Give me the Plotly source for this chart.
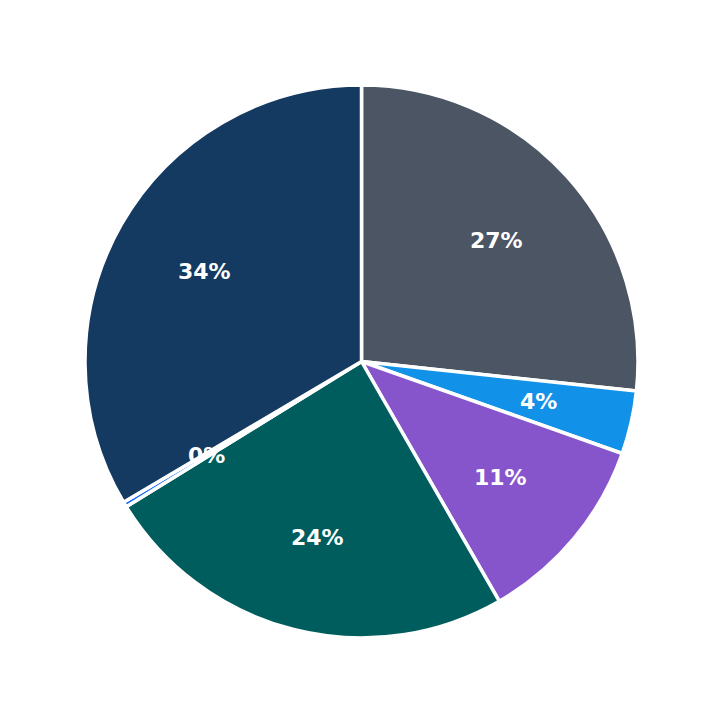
import math
import plotly.graph_objects as go

labels = ['A', 'B', 'C', 'D', 'E', 'F']
values = [26.7, 3.7, 11.3, 24.5, 0.3, 33.5]
colors = ['#4b5563', '#1192e8', '#8655cc', '#005d5d', '#0f62fe', '#143a62']

fig = go.Figure()
fig.add_trace(go.Pie(
    labels=labels, values=values, sort=False, direction='clockwise', rotation=0,
    marker=dict(colors=colors, line=dict(color='white', width=3.5)),
    textinfo='none', hoverinfo='label+percent', showlegend=False,
))

# percent labels at fixed radius, centred on each slice
total = sum(values)
cum = 0
for v in values:
    mid = (cum + v / 2) / total * 2 * math.pi
    cum += v
    r = 0.5 * 0.655
    fig.add_annotation(
        x=0.5 + r * math.sin(mid), y=0.5 + r * math.cos(mid),
        xref='paper', yref='paper', showarrow=False,
        xanchor='center', yanchor='middle',
        text='%d%%' % round(v / total * 100),
        font=dict(family='DejaVu Sans', size=22, color='white', weight='bold'),
    )

fig.update_layout(
    width=723, height=723, template='plotly_white',
    margin=dict(l=77, r=93, t=77, b=93),
    paper_bgcolor='white',
)
fig.write_html('out.html')
